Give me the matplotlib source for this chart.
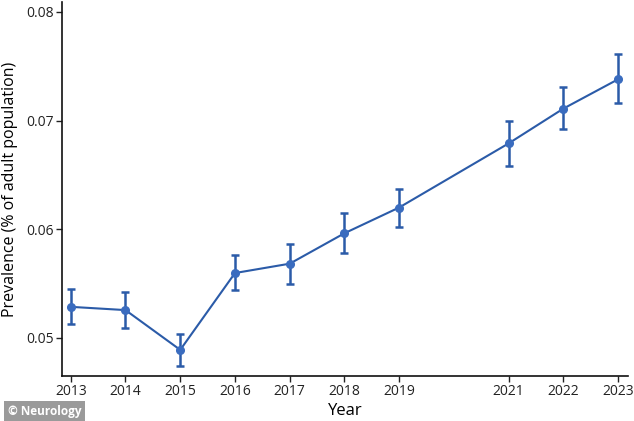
import matplotlib
matplotlib.use("Agg")
import matplotlib.pyplot as plt

years = [2013, 2014, 2015, 2016, 2017, 2018, 2019, 2021, 2022, 2023]
prevalence = [0.05286, 0.05256, 0.0489, 0.05597, 0.05683, 0.05963, 0.0620, 0.0679, 0.0711, 0.0738]
ci_low = [0.0513, 0.0509, 0.0474, 0.0544, 0.0550, 0.0578, 0.0602, 0.0658, 0.0692, 0.0716]
ci_high = [0.0545, 0.0542, 0.0504, 0.0576, 0.0586, 0.0615, 0.0637, 0.0700, 0.0731, 0.0761]

plt.rcParams['font.family'] = ['Open Sans', 'DejaVu Sans']

fig = plt.figure(figsize=(6.34, 4.21), dpi=100)
ax = fig.add_axes([0.0978, 0.107, 0.8927, 0.888])

err = [[p - lo for p, lo in zip(prevalence, ci_low)],
       [hi - p for p, hi in zip(prevalence, ci_high)]]
ax.errorbar(years, prevalence, yerr=err, color='#2b5ba8', lw=1.5,
            elinewidth=1.8, capsize=3, capthick=1.8,
            marker='o', markersize=5.5, markerfacecolor='#3a6cbf',
            markeredgecolor='#3a6cbf')

ax.set_xlim(2012.84, 2023.18)
ax.set_ylim(0.0465, 0.0809)
ax.set_xticks(years)
ax.set_xticklabels([str(y) for y in years])
ax.set_yticks([0.05, 0.06, 0.07, 0.08])
ax.set_yticklabels(['0.05', '0.06', '0.07', '0.08'])
ax.tick_params(labelsize=10, length=4, width=1, pad=2, colors='#222222')

for s in ['top', 'right']:
    ax.spines[s].set_visible(False)
for s in ['left', 'bottom']:
    ax.spines[s].set_linewidth(1.2)
    ax.spines[s].set_color('#111111')

ax.set_xlabel('Year', fontsize=12, labelpad=3)
ax.set_ylabel('Prevalence (% of adult population)', fontsize=11.5, labelpad=6)

fig.text(0.012, 0.008, '\u00a9 Neurology', fontsize=8.5, fontweight='bold',
         color='white', ha='left', va='bottom',
         bbox=dict(facecolor='#9a9a9a', edgecolor='none', pad=2.5))

fig.savefig('out.png', dpi=100)
